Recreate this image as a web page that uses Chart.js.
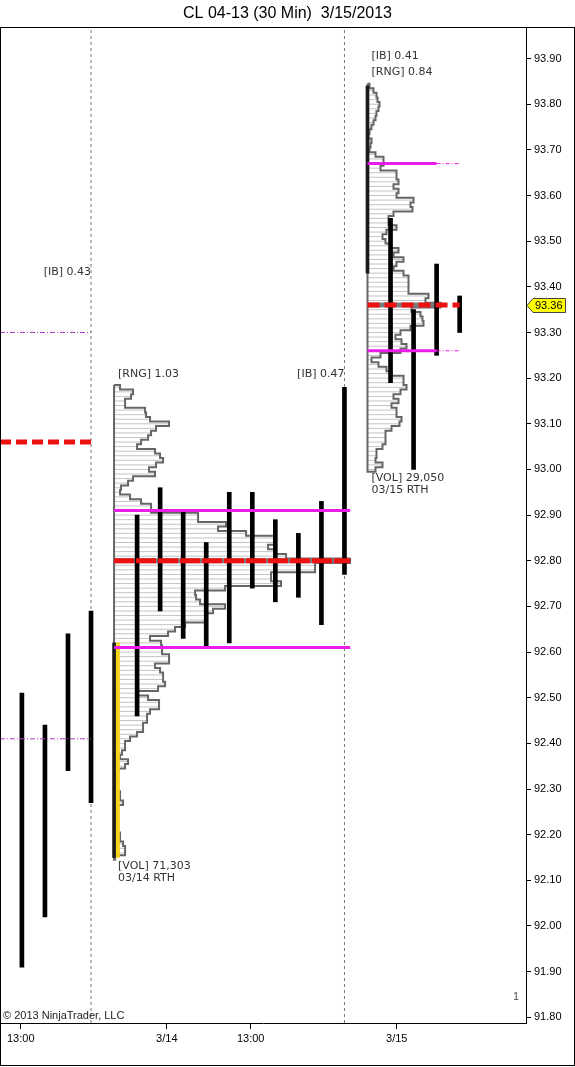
<!DOCTYPE html>
<html><head><meta charset="utf-8">
<script src="https://cdn.jsdelivr.net/npm/chart.js@4"></script>
<style>html,body{margin:0;padding:0;background:#fff;overflow:hidden}#wrap{width:575px;height:1067px}</style>
</head><body><div id="wrap"><canvas id="c" width="575" height="1067"></canvas></div>
<script>
// ================= DATA =================
const chartTitle = 'CL 04-13 (30 Min)  3/15/2013';
const copyright = '\u00A9 2013 NinjaTrader, LLC';
// 30-min bars (bar index, low, high)
const barIndex = [0,1,2,3,4,5,6,7,8,9,10,11,12,13,14,15,16,17,18,19];
const barLow  = [91.91,92.02,92.34,92.27,92.15,92.46,92.69,92.63,92.61,92.62,92.74,92.71,92.72,92.66,92.77,93.43,93.19,93.00,93.25,93.30];
const barHigh = [92.51,92.44,92.64,92.69,92.62,92.90,92.96,92.91,92.84,92.95,92.95,92.89,92.86,92.93,93.18,93.84,93.55,93.35,93.45,93.38];
const lastPrice = 93.36;
// axes
const xTickPos = [-0.05, 6.29, 9.93, 16.27];
const xTickLabels = ['13:00', '3/14', '13:00', '3/15'];
const yTickValues = [91.8,91.9,92.0,92.1,92.2,92.3,92.4,92.5,92.6,92.7,92.8,92.9,93.0,93.1,93.2,93.3,93.4,93.5,93.6,93.7,93.8,93.9];
const sessionBreaks = [3, 14];
// previous session (3/13) levels
const prevPOC = 93.06, prevVAH = 93.30, prevVAL = 92.41, prevIB = 0.43, prevHigh = 93.40;
// RTH sessions: 03/14, 03/15
const sessionStart = [4, 15];
const sessionHigh  = [93.18, 93.84];
const sessionLow   = [92.15, 93.00];
const sessionPOC   = [92.80, 93.36];
const sessionVAH   = [92.91, 93.67];
const sessionVAL   = [92.61, 93.26];
const sessionIB    = [0.47, 0.41];
const sessionVol   = [71303, 29050];
const sessionName  = ['03/14 RTH', '03/15 RTH'];
// volume-at-price profiles (relative volume per 0.01 tick, from session high down)
const profile14 = [6,19,17,11,11,31,32,36,55,42, 37,34,27,23,41,46,49,42,35,41,
  19,14,7,6,16,27,37,37,84,84, 112,104,132,161,161,154,162,172,236,201,
  201,157,157,167,111,81,82,86,111,99, 92,92,71,61,54,36,47,48,48,55,
  55,41,46,49,49,51,44,23,34,45, 45,36,33,33,29,29,23,16,11,11,
  8,6,14,11,4,1,1,1,1,6, 6,9,3,1,1,2,4,1,6,6, 9,11,11,1];
const profile15 = [2,6,9,10,12,11,9,8,6,4, 2,1,4,3,2,8,16,16,13,29,
  29,31,26,31,29,46,43,45,26,21, 21,29,19,15,18,23,31,26,36,29,
  26,36,41,41,41,41,61,58,73,44, 53,55,56,43,33,28,34,39,33,13,
  4,11,19,24,36,36,39,33,26,31, 24,29,29,34,32,24,18,18,18,15,
  9,9,8,15,8];
const tickSize = 0.01;

// ================= STYLE =================
const PX_PER_BAR = 23.04, FIRST_BAR_PX = 21.9;
const xMin = -FIRST_BAR_PX / PX_PER_BAR;
const xMax = (526 - FIRST_BAR_PX) / PX_PER_BAR;
const yMin = 91.7875, yMax = 93.967;
const volToBars = 1 / PX_PER_BAR;
const sessionLineEnd = [14.25, 18];
const sessionDottedEnd = [null, 19];
const RED = '#ee1111', MAG = '#e81ee8', PURPLE = '#b03cc8';
const TXT = '"DejaVu Sans", sans-serif';
const ARIAL = '"Liberation Sans", Arial, sans-serif';

const r2 = v => Math.round(v * 100) / 100;
const datasets = [];
const seg = (x0, x1, y) => [{x: x0, y: y}, {x: x1, y: y}];

// session break dashed lines
sessionBreaks.forEach(b => datasets.push({type:'line', data:[{x:b,y:yMin},{x:b,y:yMax}],
  borderColor:'#777', borderWidth:1, borderDash:[3,3], pointRadius:0, order:100}));

// profiles
[profile14, profile15].forEach((vols, s) => {
  const x0 = sessionStart[s], hi = sessionHigh[s];
  const rows = [], outline = [{x:x0, y:hi + tickSize/2}];
  vols.forEach((v, i) => {
    const p = r2(hi - i * tickSize), xr = x0 + v * volToBars;
    rows.push({x:x0, y:p}, {x:xr, y:p}, {x:x0, y:null});
    outline.push({x:xr, y:p + tickSize/2}, {x:xr, y:p - tickSize/2});
  });
  const lo = r2(hi - (vols.length - 1) * tickSize);
  outline.push({x:x0, y:lo - tickSize/2}, {x:x0, y:hi + tickSize/2});
  datasets.push({type:'line', data:rows, borderColor:'#c4c4c4', borderWidth:1, pointRadius:0, spanGaps:false, order:90});
  datasets.push({type:'line', data:outline, borderColor:'#666', borderWidth:2, pointRadius:0, order:80});
  const pocIdx = Math.round((hi - sessionPOC[s]) / tickSize);
  datasets.push({type:'line', data:seg(x0, x0 + vols[pocIdx] * volToBars, sessionPOC[s]),
    borderColor:'#7a7a7a', borderWidth:5, pointRadius:0, order:79});
});

// first-bar highlight of 03/14 session
datasets.push({type:'bar', data:[{x:sessionStart[0] + 0.15, y:[barLow[4], barHigh[4]]}],
  backgroundColor:'#f6d21a', barThickness:4, grouped:false, order:70});
// price bars (session opening bars drawn thinner, over the profile edge)
const isOpen = i => sessionStart.indexOf(barIndex[i]) >= 0;
datasets.push({type:'bar', data:barIndex.map((x, i) => ({x:x, y:[barLow[i], barHigh[i]]})).filter((d, i) => !isOpen(i)),
  backgroundColor:'#000', barThickness:4, grouped:false, order:60});
datasets.push({type:'bar', data:barIndex.map((x, i) => ({x:x, y:[barLow[i], barHigh[i]]})).filter((d, i) => isOpen(i)),
  backgroundColor:'#1a1a1a', barThickness:3, grouped:false, order:60});

// previous session levels
[prevVAH, prevVAL].forEach(v => datasets.push({type:'line', data:seg(xMin, sessionBreaks[0], v),
  borderColor:PURPLE, borderWidth:1, borderDash:[5,2,1,2], pointRadius:0, order:50}));
datasets.push({type:'line', data:seg(xMin, sessionBreaks[0], prevPOC),
  borderColor:RED, borderWidth:5, borderDash:[11,5], pointRadius:0, order:40});

// current session levels
[0, 1].forEach(s => {
  [sessionVAH[s], sessionVAL[s]].forEach(v => {
    datasets.push({type:'line', data:seg(sessionStart[s], sessionLineEnd[s], v),
      borderColor:MAG, borderWidth:3, pointRadius:0, order:50});
    if (sessionDottedEnd[s] !== null)
      datasets.push({type:'line', data:seg(sessionLineEnd[s], sessionDottedEnd[s], v),
        borderColor:MAG, borderWidth:1, borderDash:[4,2,1,2], pointRadius:0, order:50});
  });
  datasets.push({type:'line', data:seg(sessionStart[s], sessionDottedEnd[s] !== null ? sessionDottedEnd[s] : sessionLineEnd[s], sessionPOC[s]),
    borderColor:RED, borderWidth:5, borderDash:s === 0 ? [20,2] : [12,5], pointRadius:0, order:40});
});

// ================= CUSTOM DRAWING =================
const overlay = {
  id:'overlay',
  afterDraw(chart) {
    const ctx = chart.ctx, xs = chart.scales.x, ys = chart.scales.y;
    ctx.save();
    // frame
    ctx.strokeStyle = '#000'; ctx.lineWidth = 1;
    ctx.strokeRect(0.5, 27.5, 574, 1038);
    // texts
    ctx.font = '11px ' + TXT; ctx.fillStyle = '#333'; ctx.textBaseline = 'middle';
    const put = (t, x, y, align) => { ctx.textAlign = align; ctx.fillText(t, x, y); };
    put('[IB] ' + prevIB.toFixed(2), xs.getPixelForValue(sessionBreaks[0]), ys.getPixelForValue(prevHigh) - 15, 'right');
    [0, 1].forEach(s => {
      const xl = xs.getPixelForValue(sessionStart[s]) + 4;
      const yh = ys.getPixelForValue(sessionHigh[s]), yl = ys.getPixelForValue(sessionLow[s]);
      const rng = '[RNG] ' + (sessionHigh[s] - sessionLow[s]).toFixed(2);
      const ib = '[IB] ' + sessionIB[s].toFixed(2);
      if (s === 0) {
        put(rng, xl, yh - 13, 'left');
        put(ib, xs.getPixelForValue(sessionBreaks[1]), yh - 13, 'right');
      } else {
        put(ib, xl, yh - 30, 'left');
        put(rng, xl, yh - 14, 'left');
      }
      put('[VOL] ' + sessionVol[s].toLocaleString('en-US'), xl, yl + 9, 'left');
      put(sessionName[s], xl, yl + 20.5, 'left');
    });
    // copyright and page number
    ctx.font = '11px ' + ARIAL; ctx.fillStyle = '#222';
    put(copyright, 3, 1016, 'left');
    ctx.font = '10px ' + ARIAL; ctx.fillStyle = '#444';
    put('1', 516, 997, 'center');
    // last price marker
    const yp = Math.round(ys.getPixelForValue(lastPrice)) + 0.5;
    ctx.beginPath();
    ctx.moveTo(527, yp); ctx.lineTo(533, yp - 7); ctx.lineTo(565.5, yp - 7);
    ctx.lineTo(565.5, yp + 7); ctx.lineTo(533, yp + 7); ctx.closePath();
    ctx.fillStyle = '#ffff00'; ctx.fill(); ctx.strokeStyle = '#444'; ctx.stroke();
    ctx.font = '11px ' + ARIAL; ctx.fillStyle = '#000';
    put(lastPrice.toFixed(2), 535, yp + 0.5, 'left');
    ctx.restore();
  }
};

Chart.defaults.font.family = ARIAL;
new Chart(document.getElementById('c'), {
  type:'line',
  data:{datasets:datasets},
  options:{
    responsive:false, animation:false, devicePixelRatio:1,
    layout:{padding:{left:0, right:0, top:0, bottom:0}},
    plugins:{
      legend:{display:false}, tooltip:{enabled:false},
      title:{display:true, text:chartTitle, color:'#000',
        font:{family:ARIAL, size:16, weight:'normal', lineHeight:1.2}, padding:{top:4, bottom:4.8}}
    },
    scales:{
      x:{type:'linear', min:xMin, max:xMax, offset:false, bounds:'data',
        afterBuildTicks:s => { s.ticks = xTickPos.map(v => ({value:v})); },
        afterFit:s => { s.height = 44; },
        grid:{drawOnChartArea:false, drawTicks:true, tickLength:6, color:'#000', offset:false},
        border:{display:true, color:'#000', width:1},
        ticks:{autoSkip:false, maxRotation:0, color:'#000', padding:3, font:{size:11, family:ARIAL},
          callback:(v, i) => xTickLabels[i]}},
      y:{type:'linear', position:'right', min:yMin, max:yMax, bounds:'data',
        afterBuildTicks:s => { s.ticks = yTickValues.map(v => ({value:v})); },
        afterFit:s => { s.width = 49; },
        grid:{drawOnChartArea:false, drawTicks:true, tickLength:5, color:'#000'},
        border:{display:true, color:'#000', width:1},
        ticks:{color:'#000', padding:3, font:{size:11, family:ARIAL}, callback:v => v.toFixed(2)}}
    }
  },
  plugins:[overlay]
});
</script></body></html>
